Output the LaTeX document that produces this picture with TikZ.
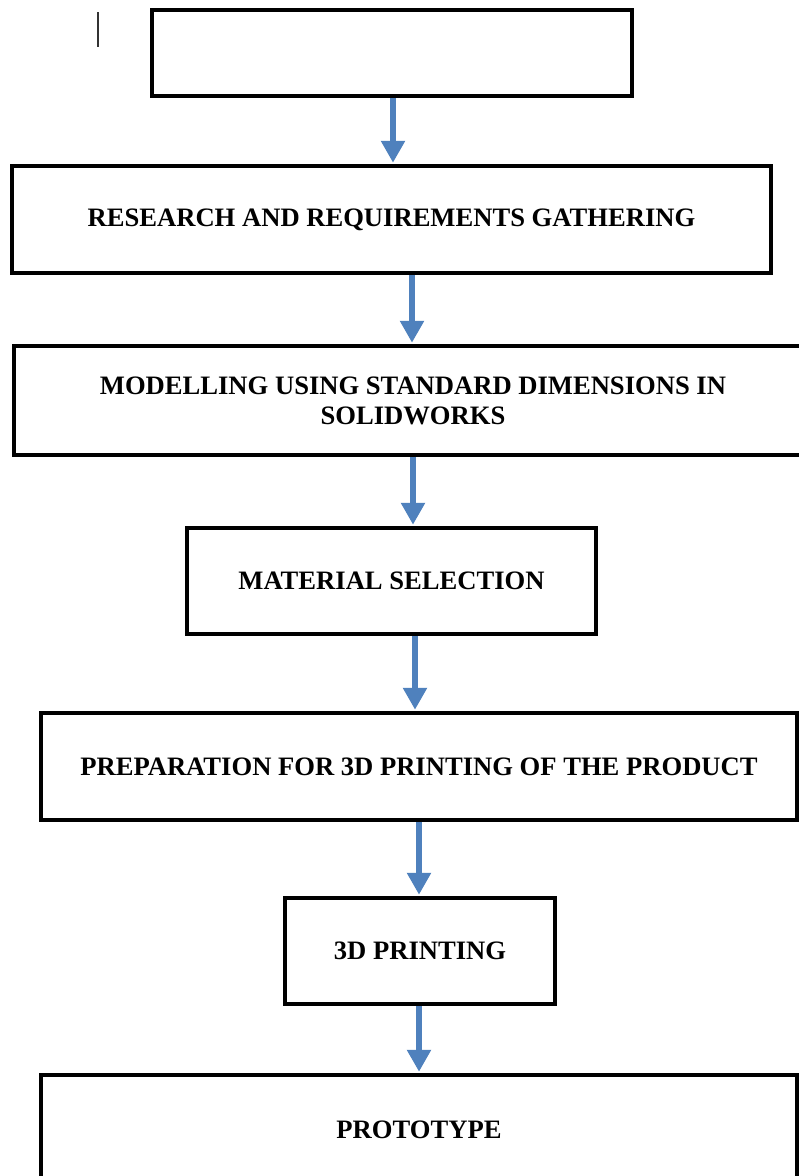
\documentclass[tikz,border=0pt]{standalone}
\usepackage{fontspec}
\setmainfont{Liberation Serif}
\usetikzlibrary{arrows.meta}
\definecolor{arrowblue}{HTML}{4F81BD}
\begin{document}
\begin{tikzpicture}[x=1pt,y=-1pt,
  box/.style={draw=black, line width=4.5pt, rectangle, inner sep=0pt, align=center,
    font=\fontsize{26.6}{30}\selectfont\bfseries},
  arr/.style={draw=arrowblue, line width=6.5pt, -{Triangle[width=23pt,length=22pt]},
    shorten >=1pt}]
\clip (0,0) rectangle (799,1176);
\fill[white] (0,0) rectangle (799,1176);
\draw[line width=1.6pt, black!80] (98,12) -- (98,47);
\node[box, minimum width=480pt, minimum height=86pt] (b1) at (392,53) {};
\node[box, minimum width=759pt, minimum height=107pt] (b2) at (391.5,219.5) {RESEARCH AND REQUIREMENTS GATHERING};
\node[box, minimum width=798pt, minimum height=109pt] (b3) at (413,400.5) {MODELLING USING STANDARD DIMENSIONS IN\\SOLIDWORKS};
\node[box, minimum width=409pt, minimum height=106pt] (b4) at (391.5,581) {MATERIAL SELECTION};
\node[box, minimum width=756pt, minimum height=107pt] (b5) at (419,766.5) {PREPARATION FOR 3D PRINTING OF THE PRODUCT};
\node[box, minimum width=270pt, minimum height=106pt] (b6) at (420,951) {3D PRINTING};
\node[box, minimum width=756pt, minimum height=110pt] (b7) at (419,1130) {PROTOTYPE};
\coordinate (c1) at (393,0);
\coordinate (c2) at (412,0);
\coordinate (c3) at (413,0);
\coordinate (c4) at (415,0);
\coordinate (c5) at (419,0);
\coordinate (c6) at (419,0);
\draw[arr] (b1.south -| c1) -- (b2.north -| c1);
\draw[arr] (b2.south -| c2) -- (b3.north -| c2);
\draw[arr] (b3.south -| c3) -- (b4.north -| c3);
\draw[arr] (b4.south -| c4) -- (b5.north -| c4);
\draw[arr] (b5.south -| c5) -- (b6.north -| c5);
\draw[arr] (b6.south -| c6) -- (b7.north -| c6);
\end{tikzpicture}
\end{document}
